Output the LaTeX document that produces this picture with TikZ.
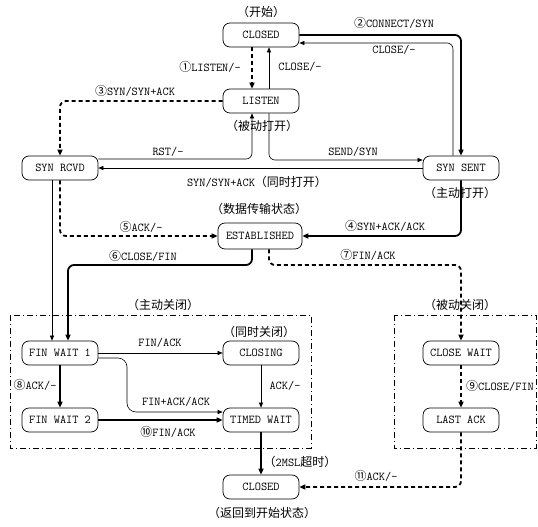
\documentclass[tikz,border=0pt]{standalone}
\usepackage{fontspec}
\newfontfamily\cjk{Noto Sans CJK SC}
\usetikzlibrary{arrows.meta,calc}
\tikzset{
  state/.style={draw, rounded corners=7pt, minimum width=76pt, minimum height=24pt, line width=0.7pt, inner sep=0pt, font=\ttfamily\fontsize{12}{13}\selectfont},
  thin/.style={line width=0.6pt, rounded corners=6pt, -{Triangle[length=5pt,width=4pt]}},
  thk/.style={line width=1.8pt, rounded corners=6pt, -{Triangle[length=6pt,width=5pt]}},
  thkdash/.style={thk, dash pattern=on 4pt off 3pt},
  lbl/.style={inner sep=0pt, font=\ttfamily\fontsize{12}{13}\selectfont},
  zone/.style={line width=0.6pt, dash pattern=on 6pt off 3pt on 1pt off 3pt}
}
\begin{document}
\begin{tikzpicture}[x=1pt,y=-1pt]
\useasboundingbox[fill=white] (0,0) rectangle (538,527);
% zones
\draw[zone] (10,315) rectangle (311,448);
\draw[zone] (394,315) rectangle (536,448);
% states
\node[state] (closedA) at (261,35) {CLOSED};
\node[state] (listen) at (261,101) {LISTEN};
\node[state] (synrcvd) at (60,168) {SYN RCVD};
\node[state] (synsent) at (461,168) {SYN SENT};
\node[state, minimum width=84pt, minimum height=26pt] (est) at (260,236) {ESTABLISHED};
\node[state] (fw1) at (60,353) {FIN WAIT 1};
\node[state] (fw2) at (60,420) {FIN WAIT 2};
\node[state] (closing) at (261,353) {CLOSING};
\node[state] (timed) at (261,420) {TIMED WAIT};
\node[state] (closedB) at (261,487) {CLOSED};
\node[state] (closewait) at (461,353) {CLOSE WAIT};
\node[state] (lastack) at (461,420) {LAST ACK};
% helper coordinates
\coordinate (k6) at (68,265);
\coordinate (k7) at (461,265);
\coordinate (k15) at (127,385);
% connectors
\draw[thkdash] ([xshift=-9pt]closedA.south) -- ([xshift=-9pt]listen.north);
\draw[thin] ([xshift=8pt]listen.north) -- ([xshift=8pt]closedA.south);
\draw[thk] (closedA.east) -| (synsent.north);
\draw[thin] ([xshift=-8pt]synsent.north) |- ([yshift=-8pt]closedA.east);
\draw[thkdash] (listen.west) -| (synrcvd.north);
\draw[thin] ([yshift=9pt]synrcvd.east) -| ([xshift=-9pt]listen.south);
\draw[thin] ([xshift=8pt]listen.south) |- ([yshift=8pt]synsent.west);
\draw[thin] (synsent.west) -- (synrcvd.east);
\draw[thkdash] (synrcvd.south) |- (est.west);
\draw[thin] ([xshift=-8pt]synrcvd.south) -- ([xshift=-8pt]fw1.north);
\draw[thk] (synsent.south) |- (est.east);
\draw[thk] ([xshift=-8pt]est.south) |- (k6) -- ([xshift=8pt]fw1.north);
\draw[thkdash] ([xshift=9pt]est.south) |- (k7) -- (closewait.north);
\draw[thin] (fw1.east) -- (closing.west);
\draw[thk] (fw1.south) -- (fw2.north);
\draw[thin, rounded corners=9pt] ([yshift=-5pt]fw1.east) -| (k15) |- ([yshift=8pt]timed.west);
\draw[thk] (fw2.east) -- (timed.west);
\draw[thin] (closing.south) -- (timed.north);
\draw[thk] (timed.south) -- (closedB.north);
\draw[thkdash] (closewait.south) -- (lastack.north);
\draw[thkdash] (lastack.south) |- (closedB.east);
% labels
\node[lbl] (l0) at (261,12) {\cjk （开始）};
\node[lbl] (l2) at (394,23) {{\cjk ②}CONNECT/SYN};
\node[lbl] (l2b) at (394,50) {CLOSE/-};
\node[lbl] (l1) at (210,67) {{\cjk ①}LISTEN/-};
\node[lbl] (l1b) at (300,67) {CLOSE/-};
\node[lbl] (l3) at (135,91) {{\cjk ③}SYN/SYN+ACK};
\node[lbl] (lp) at (262,126) {\cjk （被动打开）};
\node[lbl] (lrst) at (168,152) {RST/-};
\node[lbl] (lsend) at (353,152) {SEND/SYN};
\node[lbl] (lsim) at (257,182) {SYN/SYN+ACK{\cjk （同时打开）}};
\node[lbl] (la) at (460,193) {\cjk （主动打开）};
\node[lbl] (ld) at (259,209) {\cjk （数据传输状态）};
\node[lbl] (l5) at (141,227) {{\cjk ⑤}ACK/-};
\node[lbl] (l4) at (385,226) {{\cjk ④}SYN+ACK/ACK};
\node[lbl] (l6) at (143,256) {{\cjk ⑥}CLOSE/FIN};
\node[lbl] (l7) at (368,255) {{\cjk ⑦}FIN/ACK};
\node[lbl] (lac) at (163,305) {\cjk （主动关闭）};
\node[lbl] (lpc) at (460,305) {\cjk （被动关闭）};
\node[lbl] (lsc) at (259,332) {\cjk （同时关闭）};
\node[lbl] (lfa) at (160,343) {FIN/ACK};
\node[lbl] (l8) at (35,385) {{\cjk ⑧}ACK/-};
\node[lbl] (lack) at (285,386) {ACK/-};
\node[lbl] (lfaa) at (176,402) {FIN+ACK/ACK};
\node[lbl] (l10) at (168,432) {{\cjk ⑩}FIN/ACK};
\node[lbl] (l9) at (500,386) {{\cjk ⑨}CLOSE/FIN};
\node[lbl] (lmsl) at (300,462) {{\cjk （}2MSL{\cjk 超时）}};
\node[lbl] (l11) at (376,476) {{\cjk ⑪}ACK/-};
\node[lbl] (lret) at (262,513) {\cjk （返回到开始状态）};
\end{tikzpicture}
\end{document}
